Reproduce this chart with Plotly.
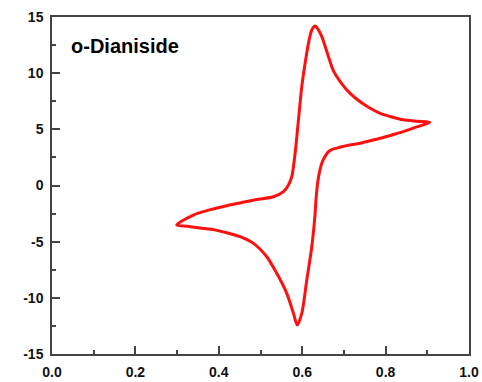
import plotly.graph_objects as go

# Forward (anodic) scan: potential (V) and current
E_fwd = [0.299, 0.339, 0.38, 0.419, 0.451, 0.49, 0.531, 0.555, 0.567, 0.575, 0.583,
         0.591, 0.599, 0.607, 0.615, 0.623, 0.631, 0.639, 0.647, 0.655, 0.663, 0.675,
         0.695, 0.715, 0.739, 0.763, 0.787, 0.815, 0.842, 0.875, 0.906]
I_fwd = [-3.52, -2.63, -2.15, -1.8, -1.55, -1.25, -1.0, -0.55, 0.05, 0.78, 2.87,
         5.83, 8.8, 10.88, 12.66, 13.84, 14.2, 13.85, 13.25, 12.4, 11.47, 10.2,
         9.05, 8.2, 7.45, 6.88, 6.43, 6.1, 5.85, 5.72, 5.62]

# Reverse (cathodic) scan
E_rev = [0.906, 0.875, 0.842, 0.815, 0.787, 0.763, 0.739, 0.714, 0.695, 0.683, 0.671,
         0.663, 0.655, 0.647, 0.638, 0.633, 0.631, 0.623, 0.611, 0.599, 0.588, 0.579,
         0.563, 0.539, 0.515, 0.483, 0.451, 0.419, 0.39, 0.355, 0.325, 0.299]
I_rev = [5.62, 5.22, 4.79, 4.5, 4.2, 3.98, 3.76, 3.6, 3.45, 3.33, 3.2,
         3.01, 2.6, 1.98, 0.49, -1.29, -2.48, -5.45, -8.41, -11.38, -12.42, -11.38,
         -9.6, -7.82, -6.34, -5.15, -4.56, -4.2, -3.95, -3.78, -3.63, -3.52]

label = "o-Dianiside"
x_ticks = [0.0, 0.2, 0.4, 0.6, 0.8, 1.0]
x_ticktext = ["0.0", "0.2", "0.4", "0.6", "0.8", "1.0"]
y_ticks = [-15, -10, -5, 0, 5, 10, 15]
y_ticktext = ["-15", "-10", "-5", "0", "5", "10", "15"]

E = E_fwd + E_rev[1:]
I = I_fwd + I_rev[1:]

fig = go.Figure()
fig.add_trace(go.Scatter(x=E, y=I, mode="lines",
                         line=dict(color="#ff1010", width=3, shape="spline", smoothing=0.8),
                         showlegend=False, hoverinfo="skip"))

tickfont = dict(family="Liberation Sans, Arial, sans-serif", size=14, color="#111", weight="bold")
axis_common = dict(showline=True, linecolor="#444", linewidth=1.5, mirror=True,
                   showgrid=False, zeroline=False, ticks="inside", ticklen=8,
                   tickwidth=1.5, tickcolor="#444", tickfont=tickfont, automargin=False)

fig.update_xaxes(range=[0, 1.0], tickvals=x_ticks, ticktext=x_ticktext,
                 minor=dict(ticks="inside", ticklen=4, dtick=0.1, tickwidth=1.5, tickcolor="#444"),
                 ticklabelstandoff=4, **axis_common)
fig.update_yaxes(range=[-15, 15], tickvals=y_ticks, ticktext=y_ticktext,
                 minor=dict(ticks="inside", ticklen=4, dtick=2.5, tickwidth=1.5, tickcolor="#444"),
                 ticklabelstandoff=4, **axis_common)

fig.add_annotation(x=0.04, y=12.4, xref="x", yref="y", text=label, showarrow=False,
                   xanchor="left", yanchor="middle",
                   font=dict(family="Liberation Sans, Arial, sans-serif", size=20,
                             color="#000", weight="bold"))

fig.update_layout(width=482, height=382, margin=dict(l=52, r=13, t=17, b=28),
                  plot_bgcolor="white", paper_bgcolor="white")

fig.write_html("out.html")
